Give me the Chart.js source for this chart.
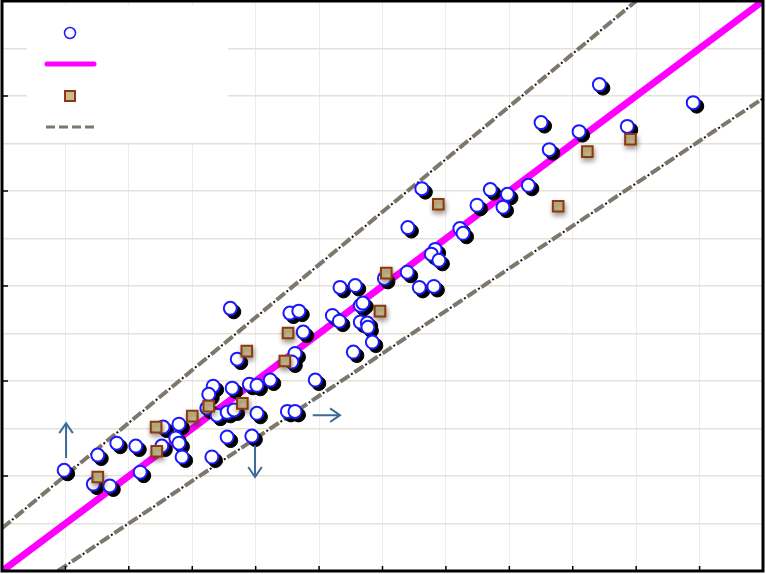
<!DOCTYPE html>
<html>
<head>
<meta charset="utf-8">
<script src="https://cdn.jsdelivr.net/npm/chart.js@4/dist/chart.umd.min.js"></script>
<style>
  html, body { margin: 0; padding: 0; background: #fff; }
  #wrap { width: 766px; height: 574px; }
</style>
</head>
<body>
<div id="wrap"><canvas id="myChart" width="766" height="574"></canvas></div>
<script>
const circleX = [0.98, 1.51, 1.44, 1.70, 1.81, 2.11, 2.18, 2.54, 2.79, 2.52, 2.74, 2.79, 2.84, 3.31, 3.55, 3.94,
  3.33, 3.63, 3.26, 3.23, 3.39, 3.55, 3.66, 3.90, 4.02, 3.60, 4.54, 4.68, 4.75, 4.62, 4.57, 3.71,
  5.33, 5.57, 5.21, 5.32, 5.65, 5.69, 5.65, 5.76, 5.77, 5.84, 5.54, 4.94, 4.23, 4.02, 4.50, 4.62,
  6.62, 6.40, 7.22, 7.27, 6.83, 6.77, 6.89, 6.39, 6.58, 6.81, 6.03, 7.49, 9.42, 10.90, 8.50, 9.86,
  9.10, 8.63, 7.70, 7.97, 8.30, 7.90]
const circleY = [2.12, 2.44, 1.83, 1.79, 2.69, 2.63, 2.08, 3.03, 3.09, 2.63, 2.80, 2.69, 2.40, 2.40, 2.82, 2.84,
  3.89, 3.85, 3.72, 3.43, 3.28, 3.34, 3.39, 3.93, 3.32, 5.53, 5.43, 5.47, 5.03, 4.58, 4.40, 4.46,
  5.97, 6.01, 5.38, 5.26, 5.59, 5.64, 5.24, 5.22, 5.13, 4.82, 4.61, 4.02, 4.02, 3.91, 3.36, 3.36,
  8.05, 7.23, 7.21, 7.11, 6.77, 6.67, 6.54, 6.29, 5.97, 5.99, 6.16, 7.70, 10.24, 9.86, 9.44, 9.36,
  9.25, 8.87, 8.03, 7.93, 8.12, 7.66]

const squareX = [1.51, 2.43, 2.44, 3.00, 3.26, 3.79, 4.51, 3.86, 4.46, 6.06, 5.96, 6.88, 9.91, 9.23, 8.77]
const squareY = [1.98, 3.03, 2.52, 3.26, 3.47, 3.53, 5.01, 4.63, 4.42, 6.27, 5.47, 7.72, 9.09, 8.83, 7.68]

// fit line and the two bounds, as end points
const fitX = [0, 12]
const fitY = [0, 12]
const upperX = [0, 10]
const upperY = [0.9, 12]
const lowerX = [0.88, 12]
const lowerY = [0, 9.95]

// arrows: [x0, y0, x1, y1]
const arrows = [
  [1.01, 2.38, 1.01, 3.11],
  [3.99, 2.65, 3.99, 1.98],
  [4.90, 3.28, 5.33, 3.28]
]

const toPts = (xs, ys) => xs.map((x, i) => ({ x: x, y: ys[i] }))

const bgPlugin = {
  id: 'bg',
  beforeDraw: chart => {
    const ctx = chart.ctx
    ctx.save()
    ctx.fillStyle = '#fff'
    ctx.fillRect(0, 0, chart.width, chart.height)
    ctx.restore()
  }
}

// shift shadow dataset and add soft shadow to squares
const shadowPlugin = {
  id: 'shadows',
  beforeDatasetDraw: (chart, args) => {
    const ds = chart.data.datasets[args.index]
    const ctx = chart.ctx
    ctx.save()
    if (ds.label === 'shadow') ctx.translate(3.5, 3.5)
    if (ds.label === 'squares') {
      ctx.shadowColor = 'rgba(60,40,20,0.45)'
      ctx.shadowBlur = 5
      ctx.shadowOffsetX = 1
      ctx.shadowOffsetY = 3
    }
  },
  afterDatasetDraw: chart => {
    chart.ctx.restore()
  }
}

const legendPlugin = {
  id: 'legendBox',
  beforeDatasetsDraw: chart => {
    const ctx = chart.ctx
    ctx.save()
    ctx.fillStyle = '#fff'
    ctx.fillRect(27, 5, 201, 138)

    ctx.strokeStyle = '#1a1aff'
    ctx.lineWidth = 1.5
    ctx.beginPath()
    ctx.arc(70, 33, 5.5, 0, Math.PI * 2)
    ctx.stroke()

    ctx.strokeStyle = '#ff00ff'
    ctx.lineWidth = 5
    ctx.lineCap = 'round'
    ctx.beginPath()
    ctx.moveTo(47, 64)
    ctx.lineTo(94, 64)
    ctx.stroke()

    ctx.fillStyle = '#c9bd8f'
    ctx.fillRect(65, 91, 10, 10)
    ctx.strokeStyle = '#8b3a12'
    ctx.lineWidth = 2
    ctx.lineCap = 'butt'
    ctx.strokeRect(65, 91, 10, 10)

    ctx.strokeStyle = '#7d776c'
    ctx.lineWidth = 3
    ctx.setLineDash([9, 4])
    ctx.beginPath()
    ctx.moveTo(46, 127)
    ctx.lineTo(94, 127)
    ctx.stroke()
    ctx.restore()
  }
}

const framePlugin = {
  id: 'frame',
  afterDraw: chart => {
    const ctx = chart.ctx
    const xs = chart.scales.x
    const ys = chart.scales.y
    const a = chart.chartArea
    ctx.save()

    // arrows
    ctx.strokeStyle = '#3d6b99'
    ctx.lineWidth = 2
    arrows.forEach(ar => {
      const x0 = xs.getPixelForValue(ar[0])
      const y0 = ys.getPixelForValue(ar[1])
      const x1 = xs.getPixelForValue(ar[2])
      const y1 = ys.getPixelForValue(ar[3])
      const ang = Math.atan2(y1 - y0, x1 - x0)
      ctx.beginPath()
      ctx.moveTo(x0, y0)
      ctx.lineTo(x1, y1)
      ctx.moveTo(x1 - 12 * Math.cos(ang - 0.6), y1 - 12 * Math.sin(ang - 0.6))
      ctx.lineTo(x1, y1)
      ctx.lineTo(x1 - 12 * Math.cos(ang + 0.6), y1 - 12 * Math.sin(ang + 0.6))
      ctx.stroke()
    })

    // inward ticks
    ctx.strokeStyle = '#000'
    ctx.lineWidth = 1.5
    for (let v = 1; v < 12; v++) {
      const px = xs.getPixelForValue(v)
      ctx.beginPath()
      ctx.moveTo(px, a.bottom)
      ctx.lineTo(px, a.bottom - 5)
      ctx.stroke()
    }
    for (let v = 2; v < 12; v += 2) {
      const py = ys.getPixelForValue(v)
      ctx.beginPath()
      ctx.moveTo(a.left, py)
      ctx.lineTo(a.left + 6, py)
      ctx.stroke()
    }

    // frame
    ctx.lineWidth = 3
    ctx.strokeRect(a.left, a.top, a.right - a.left, a.bottom - a.top)
    ctx.restore()
  }
}

const ctx = document.getElementById('myChart')
const myChart = new Chart(ctx, {
  type: 'scatter',
  data: {
    datasets: [
      {
        label: 'squares',
        data: toPts(squareX, squareY),
        pointStyle: 'rect',
        pointRadius: 7.5,
        backgroundColor: '#c9bd8f',
        borderColor: '#8b3a12',
        borderWidth: 2,
        order: 1
      },
      {
        label: 'circles',
        data: toPts(circleX, circleY),
        pointRadius: 6.5,
        backgroundColor: '#fff',
        borderColor: '#1a1aff',
        borderWidth: 2,
        order: 2
      },
      {
        label: 'shadow',
        data: toPts(circleX, circleY),
        pointRadius: 7,
        backgroundColor: '#000',
        borderColor: '#000',
        borderWidth: 1,
        order: 3
      },
      {
        label: 'fit',
        data: toPts(fitX, fitY),
        showLine: true,
        borderColor: '#ff00ff',
        borderWidth: 7,
        pointRadius: 0,
        order: 4
      },
      {
        label: 'upper',
        data: toPts(upperX, upperY),
        showLine: true,
        borderColor: '#7d776c',
        borderWidth: 4,
        borderDash: [11, 6],
        pointRadius: 0,
        order: 5
      },
      {
        label: 'upper dots',
        data: toPts(upperX, upperY),
        showLine: true,
        borderColor: '#111',
        borderWidth: 2,
        borderDash: [2, 15],
        borderDashOffset: -13,
        pointRadius: 0,
        order: 5
      },
      {
        label: 'lower',
        data: toPts(lowerX, lowerY),
        showLine: true,
        borderColor: '#7d776c',
        borderWidth: 4,
        borderDash: [11, 6],
        pointRadius: 0,
        order: 5
      },
      {
        label: 'lower dots',
        data: toPts(lowerX, lowerY),
        showLine: true,
        borderColor: '#111',
        borderWidth: 2,
        borderDash: [2, 15],
        borderDashOffset: -13,
        pointRadius: 0,
        order: 5
      }
    ]
  },
  options: {
    responsive: false,
    animation: false,
    devicePixelRatio: 1,
    layout: { autoPadding: false, padding: { left: 2, top: 1, right: 3, bottom: 3 } },
    plugins: {
      legend: { display: false },
      tooltip: { enabled: false }
    },
    scales: {
      x: {
        type: 'linear',
        min: 0,
        max: 12,
        ticks: { display: false, stepSize: 1 },
        grid: { color: '#ececec', lineWidth: 1, drawTicks: false },
        border: { display: false }
      },
      y: {
        type: 'linear',
        min: 0,
        max: 12,
        ticks: { display: false, stepSize: 1 },
        grid: { color: '#e6e1d7', lineWidth: 1.5, drawTicks: false },
        border: { display: false }
      }
    }
  },
  plugins: [bgPlugin, shadowPlugin, legendPlugin, framePlugin]
})
</script>
</body>
</html>
